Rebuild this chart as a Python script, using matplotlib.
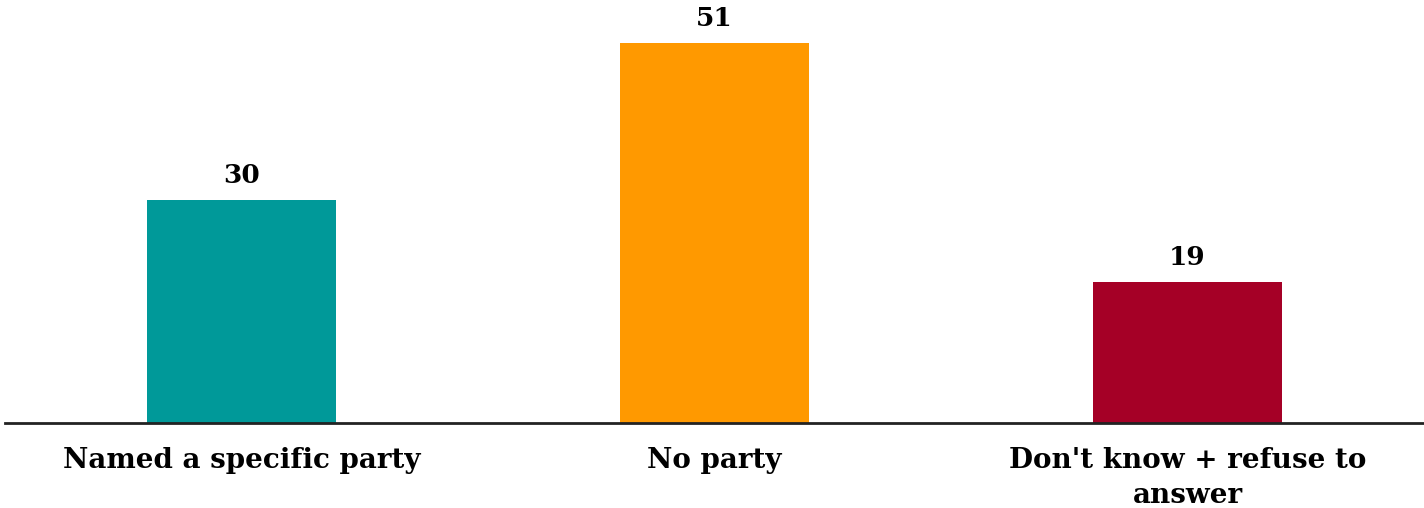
import matplotlib.pyplot as plt

# data
categories = ["Named a specific party", "No party", "Don't know + refuse to\nanswer"]
values = [30, 51, 19]
colors = ["#009999", "#FF9900", "#A50026"]

fig = plt.figure(figsize=(14.24, 5.08), dpi=100)
ax = fig.add_axes([5 / 1424, 85 / 508, 1 - 5 / 1424, 423 / 508])

x = range(len(categories))
bars = ax.bar(x, values, width=0.4, color=colors, zorder=2)

# value labels
for b, v in zip(bars, values):
    ax.text(b.get_x() + b.get_width() / 2, v + 1.6, str(v),
            ha="center", va="bottom", fontsize=19, fontweight="bold",
            family="DejaVu Serif")

ax.set_xlim(-0.5, 2.5)
ax.set_ylim(0, 56.8)
ax.set_yticks([])
ax.set_xticks(list(x))
ax.set_xticklabels(categories, fontsize=20, fontweight="bold",
                   family="DejaVu Serif", linespacing=1.4)
ax.tick_params(axis="x", length=0, pad=17)

for s in ["top", "right", "left"]:
    ax.spines[s].set_visible(False)
ax.spines["bottom"].set_linewidth(2)
ax.spines["bottom"].set_color("#222222")

fig.savefig("out.png", dpi=100)
